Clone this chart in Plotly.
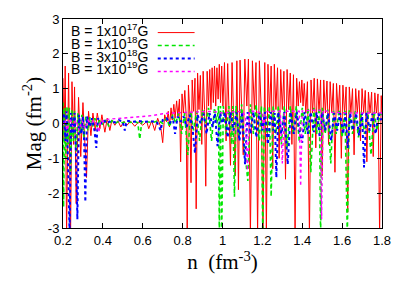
import plotly.graph_objects as go

# ---------------- data ----------------
red_x = [0.200,0.205,0.211,0.218,0.228,0.238,0.245,0.253,0.258,0.266,0.278,0.289,0.300,0.318,0.328,0.340,0.350,0.362,0.372,0.385,
         0.395,0.410,0.422,0.435,0.445,0.460,0.475,0.490,0.505,0.520,0.540,0.560,0.580,0.600,0.620,0.630,0.645,0.660,0.675,0.690,
         0.700,0.710,0.720,0.728,0.734,0.742,0.748,0.756,0.762,0.770,0.776,0.784,0.790,0.797,0.804,0.811,0.818,0.823,0.829,0.836,
         0.842,0.848,0.855,0.862,0.868,0.875,0.882,0.889,0.896,0.903,0.910,0.916,0.923,0.930,0.936,0.942,0.948,0.954,0.960,0.966,
         0.972,0.978,0.984,0.990,0.996,1.002,1.010,1.018,1.026,1.034,1.040,1.048,1.056,1.064,1.072,1.080,1.088,1.096,1.104,1.112,
         1.122,1.130,1.140,1.150,1.160,1.168,1.176,1.185,1.195,1.203,1.212,1.220,1.228,1.236,1.244,1.252,1.260,1.268,1.276,1.284,
         1.292,1.300,1.308,1.316,1.324,1.332,1.340,1.348,1.356,1.364,1.372,1.380,1.386,1.392,1.398,1.404,1.410,1.418,1.426,1.436,
         1.444,1.452,1.460,1.468,1.476,1.484,1.492,1.500,1.508,1.516,1.524,1.532,1.540,1.548,1.556,1.564,1.572,1.580,1.588,1.596,
         1.604,1.612,1.620,1.628,1.636,1.644,1.652,1.660,1.668,1.676,1.684,1.692,1.700,1.708,1.716,1.724,1.732,1.740,1.748,1.756,
         1.764,1.772,1.780,1.788,1.796,1.800]
red_y = [1.3,-0.5,1.65,-3.2,1.45,-3.2,1.2,-0.6,1.05,-2.3,0.75,-0.95,0.6,-1.55,0.35,-0.35,0.3,-0.2,0.3,-0.15,
         0.25,-0.25,0.15,-0.2,0.1,-0.05,0.08,-0.1,0.06,-0.05,0.06,-0.08,0.05,-0.05,0.06,-0.15,0.08,-0.2,0.15,-0.1,
         -0.55,0.25,0.05,0.35,-0.1,0.45,0.1,0.55,0.15,0.65,0.2,0.7,-1.1,0.85,0.3,0.95,0.2,-3.2,1.1,0.3,
         -1.7,1.25,0.35,1.3,-2.45,1.45,0.4,1.38,-0.6,1.5,0.4,-1.8,1.5,0.5,1.55,0.4,1.6,0.6,1.65,0.5,
         1.6,0.7,1.7,0.6,1.65,0.5,1.75,-0.5,1.72,0.3,-1.2,1.75,0.4,-1.5,1.8,-1.9,1.82,0.3,-0.9,1.85,
         0.5,1.85,-3.2,1.8,0.4,1.75,-3.2,1.8,0.3,-3.2,1.75,-3.2,1.7,0.3,1.65,-1.3,1.7,0.4,1.6,-1.0,
         1.55,0.4,1.5,-1.6,1.55,0.4,1.45,-0.6,1.4,-3.2,1.3,0.5,1.2,0.6,1.25,0.5,1.15,0.3,1.2,-3.2,
         1.25,0.3,1.3,-0.7,1.28,0.3,1.25,-1.5,1.25,0.3,1.22,-0.6,1.2,0.3,1.15,-1.4,1.15,0.3,1.1,-1.0,
         1.1,0.3,1.05,-2.55,1.05,0.3,1.0,-0.9,1.0,0.3,0.95,-0.5,1.0,0.3,0.95,-1.1,0.9,0.3,0.9,-0.95,
         0.88,0.3,0.85,-3.2,0.8,0.3]

green_x = [0.200,0.203,0.208,0.214,0.220,0.226,0.232,0.238,0.245,0.252,0.258,0.266,0.275,0.285,0.295,0.305,0.315,0.325,0.335,0.348,
           0.360,0.372,0.385,0.400,0.415,0.430,0.445,0.460,0.480,0.500,0.520,0.540,0.560,0.575,0.585,0.595,0.620,0.650,0.680,0.700,
           0.720,0.735,0.750,0.765,0.780,0.795,0.810,0.826,0.840,0.855,0.870,0.885,0.900,0.915,0.930,0.945,0.960,0.972,0.980,0.984,
           0.990,0.996,1.004,1.018,1.032,1.046,1.052,1.060,1.068,1.082,1.096,1.112,1.127,1.140,1.155,1.168,1.184,1.195,1.202,1.210,
           1.225,1.235,1.244,1.254,1.268,1.280,1.295,1.310,1.325,1.340,1.355,1.370,1.385,1.400,1.415,1.430,1.443,1.458,1.472,1.486,
           1.492,1.500,1.515,1.528,1.543,1.556,1.570,1.585,1.600,1.614,1.626,1.636,1.652,1.666,1.682,1.696,1.712,1.728,1.745,1.760,
           1.775,1.790,1.800]
green_y = [0.6,-2.4,0.45,-1.0,0.5,-0.6,0.45,-1.4,0.4,-0.5,0.35,-0.8,0.3,-0.3,0.25,-0.4,0.2,-0.2,0.18,-0.1,
           0.15,-0.1,0.12,-0.05,0.1,-0.08,0.08,0.0,0.06,0.02,0.06,0.03,0.06,0.02,-0.45,0.05,0.05,0.03,0.08,0.0,
           0.15,-0.1,0.25,0.0,0.3,-0.3,0.3,-0.9,0.35,-0.2,0.35,-0.5,0.4,0.0,0.45,-0.5,0.45,0.0,0.5,-3.2,
           0.5,-3.2,0.5,-0.3,0.5,-0.6,0.5,-2.1,0.5,-0.4,0.55,-0.8,-1.65,0.55,-0.3,0.55,-0.5,0.5,-3.2,0.5,
           -0.4,0.5,-2.1,0.5,-0.3,0.5,-0.6,0.5,-0.7,0.5,-0.3,0.5,-0.5,0.45,-0.3,0.45,-1.4,0.45,-0.3,0.45,
           -3.2,0.45,-0.3,0.4,-1.15,0.4,-0.3,0.4,-0.4,0.4,-3.2,0.4,-0.3,0.35,-0.4,0.35,-0.3,0.35,-0.9,0.35,
           -0.2,0.3,0.2]

blue_x = [0.200,0.205,0.212,0.218,0.225,0.233,0.240,0.250,0.258,0.266,0.272,0.280,0.292,0.300,0.306,0.312,0.320,0.335,0.345,0.358,
          0.367,0.375,0.390,0.405,0.420,0.440,0.460,0.480,0.500,0.510,0.520,0.550,0.580,0.610,0.640,0.670,0.690,0.700,0.720,0.735,
          0.750,0.762,0.775,0.790,0.805,0.820,0.835,0.850,0.862,0.875,0.890,0.905,0.920,0.935,0.950,0.962,0.975,0.988,1.000,1.012,
          1.026,1.040,1.055,1.070,1.085,1.098,1.113,1.126,1.140,1.155,1.170,1.185,1.200,1.213,1.228,1.242,1.255,1.262,1.270,1.280,
          1.295,1.310,1.327,1.342,1.358,1.372,1.386,1.400,1.412,1.428,1.442,1.458,1.472,1.488,1.500,1.515,1.530,1.545,1.560,1.575,
          1.590,1.605,1.618,1.628,1.640,1.655,1.670,1.685,1.700,1.710,1.722,1.738,1.752,1.768,1.782,1.795,1.800]
blue_y = [0.0,0.3,-0.5,0.35,-1.0,-3.2,0.3,-0.3,0.3,-1.0,-2.75,0.25,-0.3,0.2,-0.5,-2.25,0.2,-0.1,0.15,-0.2,
          -0.7,0.15,0.0,0.1,0.0,0.08,0.03,0.1,0.05,-0.2,0.08,0.05,0.07,0.05,0.06,0.05,-0.2,0.1,0.15,0.0,
          0.2,-0.3,0.2,0.05,0.2,-0.1,0.25,-0.15,-0.85,0.25,0.0,0.28,-0.3,0.3,-0.1,0.3,-0.65,0.3,0.0,0.32,
          -0.4,0.32,-0.2,0.32,-0.5,0.33,-1.17,0.33,-0.3,0.33,-0.4,0.33,-0.2,0.33,-0.6,0.33,-0.2,0.3,-1.55,0.33,
          -0.3,0.33,-1.17,0.33,-0.3,0.33,-0.2,-0.55,0.33,-0.3,0.33,-0.25,0.32,-0.4,0.32,-0.2,0.3,-0.5,0.3,-0.2,
          0.3,-0.3,0.3,-0.7,0.3,-0.2,0.3,-0.35,0.3,-1.26,0.3,-0.2,0.28,-0.3,0.28,0.1,0.25]

mag_x = [0.200,0.210,0.220,0.235,0.250,0.265,0.280,0.295,0.310,0.325,0.340,0.355,0.370,0.380,0.390,0.400,0.420,0.450,0.500,0.550,
         0.600,0.650,0.700,0.750,0.800,0.850,0.900,0.950,1.000,1.050,1.080,1.100,1.115,1.125,1.135,1.160,1.200,1.205,1.215,1.250,
         1.290,1.300,1.310,1.350,1.385,1.392,1.400,1.450,1.490,1.497,1.505,1.550,1.600,1.650,1.700,1.750,1.800]
mag_y = [-0.05,0.1,-0.2,0.15,-0.1,0.1,-0.2,0.08,-0.15,0.1,0.0,0.1,-0.05,-0.25,0.1,0.05,0.12,0.13,0.16,0.18,
         0.2,0.23,0.28,0.3,0.32,0.33,0.34,0.35,0.3,0.33,0.35,0.35,0.2,-1.35,0.35,0.35,0.3,-0.2,0.33,0.35,
         0.35,-1.15,0.35,0.36,0.35,-1.8,0.36,0.38,0.38,-2.75,0.38,0.32,0.3,0.3,0.3,0.3,0.3]

series_names = ["B = 1x10<sup>17</sup>G", "B = 1x10<sup>18</sup>G",
                "B = 3x10<sup>18</sup>G", "B = 1x10<sup>19</sup>G"]
x_ticks = [0.2, 0.4, 0.6, 0.8, 1.0, 1.2, 1.4, 1.6, 1.8]
x_tick_text = ["0.2", "0.4", "0.6", "0.8", "1", "1.2", "1.4", "1.6", "1.8"]
y_ticks = [-3, -2, -1, 0, 1, 2, 3]
y_tick_text = ["-3", "-2", "-1", "0", "1", "2", "3"]

# ---------------- styles ----------------
colors = ["rgb(255,0,0)", "rgb(0,230,0)", "rgb(0,0,255)", "rgb(255,0,255)"]
dashes = ["solid", "4px,3px", "dot", "dot"]
widths = [1.0, 1.6, 2.0, 1.4]

fig = go.Figure()
data = [(red_x, red_y), (green_x, green_y), (blue_x, blue_y), (mag_x, mag_y)]
for (xs, ys), name, c, d, w in zip(data, series_names, colors, dashes, widths):
    fig.add_trace(go.Scatter(x=xs, y=ys, mode="lines", name=name,
                             line=dict(color=c, dash=d, width=w), showlegend=False))

# manual legend (text on the left, line sample on the right)
rows_y = [0.935, 0.873, 0.811, 0.749]
for name, c, d, w, ry in zip(series_names, colors, dashes, widths, rows_y):
    fig.add_annotation(x=0.272, y=ry, xref="paper", yref="paper", text=name,
                       showarrow=False, xanchor="right", yanchor="middle", yshift=3,
                       font=dict(family="Liberation Sans, Arial", size=14, color="black"))
    fig.add_shape(type="line", xref="paper", yref="paper", x0=0.297, x1=0.4125,
                  y0=ry, y1=ry, line=dict(color=c, dash=d, width=w))

axis_common = dict(showline=True, linecolor="black", linewidth=1, mirror="ticks",
                   ticks="inside", ticklen=5, tickcolor="black", showgrid=False,
                   zeroline=False,
                   tickfont=dict(family="Liberation Sans, Arial", size=13, color="black"))

fig.update_layout(
    width=403, height=283,
    margin=dict(l=63, r=20, t=16, b=55),
    plot_bgcolor="white", paper_bgcolor="white",
    xaxis=dict(range=[0.2, 1.8], tickvals=x_ticks, ticktext=x_tick_text,
               title=dict(text="n  (fm<sup>-3</sup>)", standoff=4,
                          font=dict(family="Liberation Serif, Times New Roman", size=21, color="black")),
               **axis_common),
    yaxis=dict(range=[-3, 3], tickvals=y_ticks, ticktext=y_tick_text,
               title=dict(text="Mag (fm<sup>-2</sup>)", standoff=0,
                          font=dict(family="Liberation Serif, Times New Roman", size=21, color="black")),
               **axis_common),
)

fig.write_html("out.html", config={"displayModeBar": False},
               post_script="document.body.style.margin='0';")
